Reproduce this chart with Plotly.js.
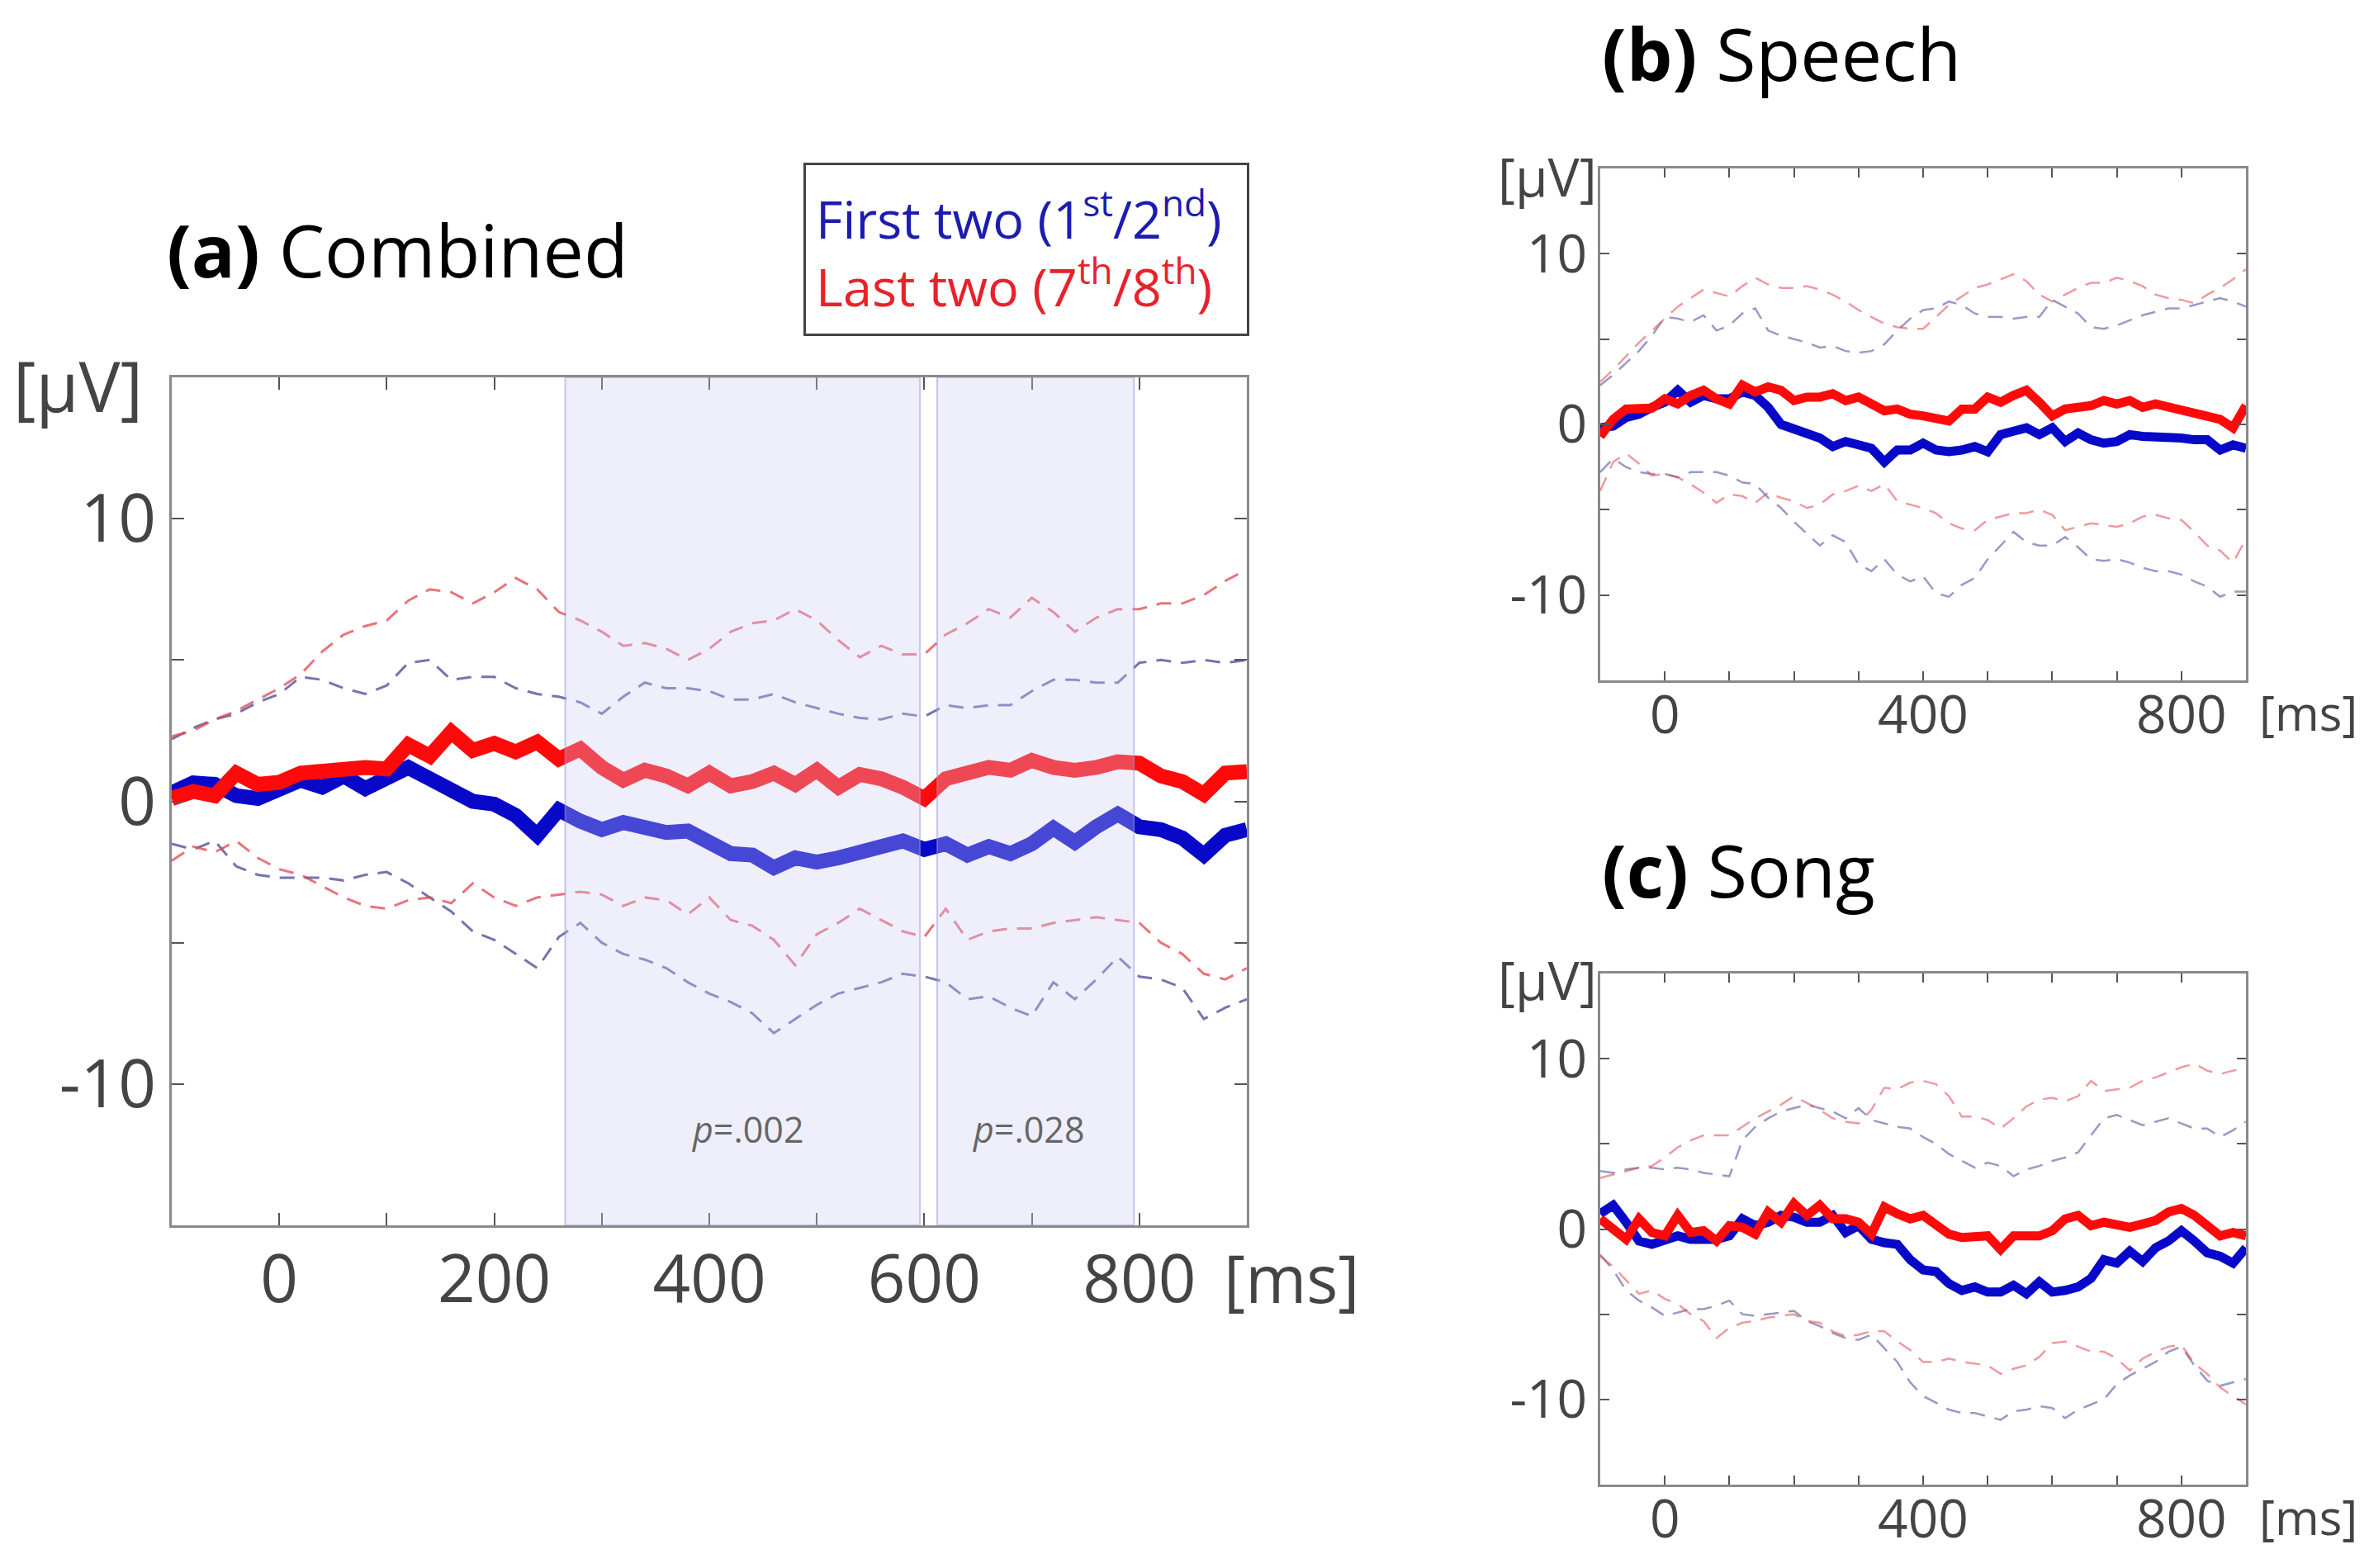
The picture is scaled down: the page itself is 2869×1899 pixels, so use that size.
<!DOCTYPE html>
<html>
<head>
<meta charset="utf-8">
<script src="https://cdn.plot.ly/plotly-3.0.1.min.js"></script>
<style>
  html, body { margin: 0; padding: 0; background: #fff; }
  #plot { width: 2869px; height: 1899px; }
</style>
</head>
<body>
<div id="plot"></div>
<script>
// time axis (ms), shared by all three panels
var timeMs = [-100, -80, -60, -40, -20, 0, 20, 40, 60, 80, 100, 120, 140, 160, 180,
  200, 220, 240, 260, 280, 300, 320, 340, 360, 380, 400, 420, 440, 460, 480,
  500, 520, 540, 560, 580, 600, 620, 640, 660, 680, 700, 720, 740, 760, 780,
  800, 820, 840, 860, 880, 900];

// (a) Combined
var combinedFirst = [0.3, 0.65, 0.6, 0.2, 0.1, 0.45, 0.75, 0.5, 0.9, 0.45, 0.8, 1.2, 0.8, 0.35, 0.0,
  -0.1, -0.5, -1.2, -0.3, -0.7, -1.0, -0.75, -0.9, -1.1, -1.05, -1.5, -1.85, -1.9, -2.35, -2.0,
  -2.15, -2.0, -1.8, -1.65, -1.4, -1.7, -1.5, -1.9, -1.6, -1.85, -1.5, -0.95, -1.45, -0.9, -0.45,
  -0.9, -1.0, -1.3, -1.9, -1.2, -1.0];
var combinedLast = [0.1, 0.35, 0.2, 1.0, 0.6, 0.67, 1.0, 1.1, 1.1, 1.2, 1.15, 2.0, 1.6, 2.45, 1.8,
  2.05, 1.75, 2.1, 1.5, 1.85, 1.2, 0.75, 1.1, 0.9, 0.55, 1.0, 0.55, 0.7, 1.0, 0.6,
  1.1, 0.5, 0.95, 0.8, 0.5, 0.1, 0.8, 1.0, 1.2, 1.1, 1.45, 1.2, 1.1, 1.2, 1.4,
  1.35, 0.9, 0.7, 0.25, 1.0, 1.05];
var combinedFirstUp = [2.2, 2.6, 2.9, 3.1, 3.5, 3.8, 4.4, 4.3, 4.0, 3.8, 4.1, 4.9, 5.0, 4.3, 4.4,
  4.4, 4.0, 3.8, 3.7, 3.5, 3.1, 3.7, 4.2, 4.0, 4.0, 3.9, 3.6, 3.6, 3.8, 3.5,
  3.3, 3.1, 2.95, 2.9, 3.1, 3.0, 3.4, 3.3, 3.4, 3.4, 3.9, 4.3, 4.3, 4.2, 4.2,
  4.9, 5.0, 4.9, 5.0, 4.9, 5.0];
var combinedFirstLo = [-1.5, -1.7, -1.4, -2.3, -2.6, -2.7, -2.7, -2.7, -2.8, -2.6, -2.5, -2.9, -3.4, -3.9, -4.6,
  -4.9, -5.4, -5.9, -4.8, -4.3, -5.0, -5.4, -5.6, -5.9, -6.4, -6.8, -7.1, -7.5, -8.2, -7.7,
  -7.2, -6.8, -6.6, -6.4, -6.1, -6.2, -6.4, -7.0, -6.9, -7.3, -7.6, -6.4, -7.0, -6.3, -5.5,
  -6.2, -6.3, -6.6, -7.7, -7.3, -7.0];
var combinedLastUp = [2.3, 2.5, 2.9, 3.2, 3.6, 4.0, 4.5, 5.3, 5.9, 6.2, 6.4, 7.1, 7.5, 7.4, 7.0,
  7.4, 7.9, 7.5, 6.7, 6.4, 6.0, 5.5, 5.6, 5.4, 5.0, 5.4, 6.0, 6.3, 6.4, 6.8,
  6.4, 5.7, 5.1, 5.5, 5.2, 5.2, 5.9, 6.3, 6.8, 6.5, 7.2, 6.7, 6.0, 6.5, 6.8,
  6.8, 7.0, 7.0, 7.3, 7.8, 8.2];
var combinedLastLo = [-2.1, -1.6, -1.8, -1.4, -2.0, -2.4, -2.6, -3.0, -3.4, -3.7, -3.8, -3.5, -3.4, -3.6, -2.9,
  -3.4, -3.7, -3.4, -3.3, -3.2, -3.3, -3.7, -3.4, -3.5, -4.0, -3.4, -4.2, -4.4, -4.9, -5.8,
  -4.7, -4.3, -3.8, -4.2, -4.6, -4.8, -3.8, -4.9, -4.6, -4.5, -4.5, -4.3, -4.2, -4.1, -4.2,
  -4.3, -5.0, -5.4, -6.1, -6.3, -5.9];

// (b) Speech
var speechFirst = [-0.2, -0.1, 0.4, 0.6, 1.0, 1.3, 2.0, 1.3, 1.7, 1.5, 1.5, 1.9, 1.7, 1.0, 0.0,
  -0.3, -0.5, -0.8, -1.3, -1.0, -1.2, -1.4, -2.2, -1.5, -1.5, -1.1, -1.5, -1.6, -1.5, -1.3,
  -1.6, -0.6, -0.4, -0.2, -0.6, -0.2, -1.0, -0.5, -0.9, -1.1, -1.0, -0.6, -0.7, -0.7, -0.8,
  -0.8, -0.9, -0.9, -1.5, -1.2, -1.4];
var speechLast = [-0.7, 0.3, 0.9, 0.9, 0.95, 1.5, 1.2, 1.7, 2.0, 1.5, 1.2, 2.3, 1.9, 2.2, 2.0,
  1.4, 1.6, 1.6, 1.8, 1.4, 1.6, 1.2, 0.8, 0.9, 0.6, 0.5, 0.3, 0.2, 0.9, 0.9,
  1.6, 1.3, 1.7, 2.0, 1.3, 0.5, 0.9, 1.0, 1.1, 1.4, 1.2, 1.4, 1.0, 1.2, 1.0,
  0.9, 0.6, 0.5, 0.3, -0.2, 1.1];
var speechFirstUp = [2.3, 2.9, 3.6, 4.3, 5.2, 6.3, 6.2, 6.0, 6.4, 5.5, 5.8, 6.5, 6.8, 5.5, 5.2,
  5.0, 4.8, 4.5, 4.6, 4.3, 4.2, 4.3, 4.7, 5.5, 6.2, 6.7, 6.8, 7.2, 7.0, 6.5,
  6.3, 6.3, 6.2, 6.3, 6.3, 7.3, 6.9, 6.5, 5.7, 5.6, 5.8, 6.1, 6.4, 6.6, 6.8,
  6.8, 7.0, 7.2, 7.4, 7.2, 6.9];
var speechFirstLo = [-2.8, -2.0, -2.5, -2.8, -2.9, -2.9, -3.1, -2.8, -2.8, -2.8, -3.0, -3.4, -3.5, -4.3, -4.9,
  -5.7, -6.4, -7.1, -6.5, -6.9, -8.2, -8.6, -7.9, -8.8, -9.2, -8.9, -9.9, -10.1, -9.4, -9.0,
  -7.9, -7.1, -6.3, -6.9, -7.1, -7.1, -6.6, -7.2, -7.9, -8.0, -7.9, -8.1, -8.4, -8.6, -8.6,
  -8.8, -9.2, -9.5, -10.1, -9.8, -9.8];
var speechLastUp = [2.5, 3.2, 4.0, 4.8, 5.5, 6.2, 6.9, 7.4, 7.9, 7.7, 7.5, 8.1, 8.6, 8.2, 8.0,
  8.0, 8.1, 7.9, 7.6, 7.2, 6.7, 6.3, 5.9, 5.7, 5.6, 5.6, 6.3, 7.0, 7.5, 8.0,
  8.2, 8.5, 8.8, 8.4, 7.6, 7.2, 7.6, 8.0, 8.3, 8.3, 8.6, 8.4, 8.1, 7.6, 7.4,
  7.3, 7.1, 7.6, 8.0, 8.5, 9.1];
var speechLastLo = [-3.9, -2.2, -1.7, -2.3, -3.0, -2.9, -3.1, -3.5, -4.0, -4.6, -4.1, -4.2, -4.6, -4.0, -4.3,
  -4.5, -4.9, -4.7, -4.1, -3.9, -3.6, -3.9, -3.5, -4.5, -4.7, -4.9, -5.2, -5.8, -6.1, -6.2,
  -5.6, -5.4, -5.2, -5.2, -5.0, -5.3, -6.2, -6.0, -5.8, -5.9, -6.0, -5.8, -5.4, -5.3, -5.5,
  -5.6, -6.3, -7.1, -7.4, -8.1, -6.7];

// (c) Song
var songFirst = [0.9, 1.4, 0.4, -0.7, -0.9, -0.6, -0.4, -0.6, -0.6, -0.6, -0.4, 0.6, 0.2, 0.4, 0.8,
  0.7, 0.4, 0.4, 0.8, -0.2, 0.2, -0.6, -0.8, -0.9, -1.8, -2.4, -2.5, -3.2, -3.6, -3.4,
  -3.7, -3.7, -3.3, -3.8, -3.1, -3.7, -3.6, -3.4, -2.9, -1.8, -2.0, -1.3, -1.9, -1.1, -0.7,
  -0.1, -0.7, -1.4, -1.6, -2.0, -1.1];
var songLast = [0.6, 0.0, -0.6, 0.6, -0.2, -0.4, 0.8, -0.2, -0.1, -0.7, 0.2, 0.1, -0.3, 1.0, 0.4,
  1.5, 0.8, 1.4, 0.6, 0.6, 0.4, -0.3, 1.3, 0.9, 0.6, 0.8, 0.2, -0.3, -0.5, -0.4,
  -0.4, -1.2, -0.4, -0.4, -0.4, -0.1, 0.6, 0.8, 0.2, 0.4, 0.2, 0.1, 0.3, 0.5, 1.0,
  1.2, 0.8, 0.2, -0.4, -0.2, -0.4];
var songFirstUp = [3.4, 3.3, 3.5, 3.6, 3.6, 3.5, 3.6, 3.5, 3.3, 3.2, 3.1, 5.2, 6.0, 6.5, 6.9,
  7.1, 7.3, 7.1, 6.9, 6.5, 7.1, 6.4, 6.2, 6.0, 5.9, 5.4, 5.0, 4.4, 4.0, 3.6,
  3.9, 3.7, 3.1, 3.5, 3.7, 4.0, 4.2, 4.5, 5.5, 6.5, 6.7, 6.4, 6.1, 6.3, 6.5,
  6.2, 5.9, 5.9, 5.4, 5.8, 6.3];
var songFirstLo = [-1.5, -2.4, -3.6, -4.2, -4.6, -5.1, -4.9, -4.7, -4.7, -4.5, -4.2, -5.0, -5.1, -5.0, -4.9,
  -4.8, -5.4, -5.7, -6.1, -6.4, -6.5, -6.2, -7.0, -7.8, -9.0, -9.8, -10.2, -10.6, -10.8, -10.8,
  -11.0, -11.2, -10.7, -10.6, -10.4, -10.5, -11.1, -10.6, -10.3, -10.0, -9.1, -8.6, -8.2, -7.8, -7.2,
  -6.9, -8.0, -8.9, -9.2, -9.0, -8.8];
var songLastUp = [3.0, 3.2, 3.4, 3.6, 3.7, 4.2, 4.8, 5.2, 5.5, 5.5, 5.5, 6.0, 6.5, 6.9, 7.3,
  7.8, 7.4, 7.0, 6.5, 6.3, 6.2, 7.0, 8.3, 8.2, 8.6, 8.7, 8.5, 7.8, 6.6, 6.6,
  6.4, 5.9, 6.5, 7.2, 7.6, 7.7, 7.5, 7.8, 8.7, 8.1, 8.2, 8.3, 8.7, 8.9, 9.2,
  9.5, 9.7, 9.3, 9.1, 9.3, 9.4];
var songLastLo = [-1.6, -2.2, -3.0, -3.8, -3.6, -4.1, -4.4, -5.0, -5.4, -6.4, -5.8, -5.5, -5.4, -5.2, -5.1,
  -5.0, -5.4, -5.5, -6.0, -6.3, -6.2, -6.0, -6.0, -6.6, -7.1, -7.8, -7.8, -7.6, -7.8, -7.9,
  -8.0, -8.5, -8.2, -8.0, -7.5, -6.7, -6.6, -6.9, -7.2, -7.2, -7.6, -8.3, -7.6, -7.2, -6.9,
  -6.8, -7.9, -8.5, -9.3, -9.8, -10.3];

// significant windows in (a), ms
var sigStart = [266, 612];
var sigEnd = [596, 795];
var sigLabel = ['<i>p</i>=.002', '<i>p</i>=.028'];
var sigLabelX = [436, 697];

// tick labels
var xTickVals = [-100, 0, 100, 200, 300, 400, 500, 600, 700, 800, 900];
var xTickTextA = ['', '0', '', '200', '', '400', '', '600', '', '800', ''];
var xTickTextBC = ['', '0', '', '', '', '400', '', '', '', '800', ''];
var yTickVals = [-15, -10, -5, 0, 5, 10, 15];
var yTickText = ['', '-10', '', '0', '', '10', ''];

var W = 2869, H = 1899;
var FONT = 'Open Sans, Noto Sans, sans-serif';
var BLUE = '#0808c8', RED = '#ff0a0a';

function px(x) { return x / W; }
function py(y) { return 1 - y / H; }

function dashed(y, color, ax, w) {
  return {
    x: timeMs, y: y, xaxis: ax[0], yaxis: ax[1], type: 'scatter', mode: 'lines',
    line: {color: color, width: w, dash: '18px,12px'}, hoverinfo: 'skip', showlegend: false
  };
}
function thick(y, color, ax, w) {
  return {
    x: timeMs, y: y, xaxis: ax[0], yaxis: ax[1], type: 'scatter', mode: 'lines',
    line: {color: color, width: w}, hoverinfo: 'skip', showlegend: false
  };
}

function panel(first, last, fUp, fLo, lUp, lLo, ax, wThick, wDash, alpha) {
  var bd = 'rgba(70,70,150,' + alpha + ')';
  var rd = 'rgba(225,70,80,' + alpha + ')';
  return [
    dashed(fUp, bd, ax, wDash), dashed(fLo, bd, ax, wDash),
    dashed(lUp, rd, ax, wDash), dashed(lLo, rd, ax, wDash),
    thick(first, BLUE, ax, wThick), thick(last, RED, ax, wThick)
  ];
}

var data = [].concat(
  panel(combinedFirst, combinedLast, combinedFirstUp, combinedFirstLo, combinedLastUp, combinedLastLo, ['x', 'y'], 18, 3, 0.75),
  panel(speechFirst, speechLast, speechFirstUp, speechFirstLo, speechLastUp, speechLastLo, ['x2', 'y2'], 11, 2.5, 0.55),
  panel(songFirst, songLast, songFirstUp, songFirstLo, songLastUp, songLastLo, ['x3', 'y3'], 11, 2.5, 0.55)
);

function xAxis(domain, anchor, ticktext, size, ticklen, standoff) {
  return {
    domain: domain, anchor: anchor, range: [-100, 900], fixedrange: true,
    tickvals: xTickVals, ticktext: ticktext, ticks: 'inside', ticklen: ticklen, tickwidth: 2,
    tickcolor: '#555', showline: true, linecolor: '#8a8a8a', linewidth: 3, mirror: 'ticks',
    ticklabelstandoff: standoff,
    showgrid: false, zeroline: false, tickfont: {family: FONT, size: size, color: '#444'}
  };
}
function yAxis(domain, anchor, size, ticklen) {
  return {
    domain: domain, anchor: anchor, range: [-15, 15], fixedrange: true,
    tickvals: yTickVals, ticktext: yTickText, ticks: 'inside', ticklen: ticklen, tickwidth: 2,
    tickcolor: '#555', showline: true, linecolor: '#8a8a8a', linewidth: 3, mirror: 'ticks',
    showgrid: false, zeroline: false, tickfont: {family: FONT, size: size, color: '#444'}
  };
}

var shapes = [];
var annotations = [];
for (var i = 0; i < sigStart.length; i++) {
  shapes.push({
    type: 'rect', xref: 'x', yref: 'y', x0: sigStart[i], x1: sigEnd[i], y0: -15, y1: 15,
    fillcolor: 'rgba(205,205,245,0.32)', line: {color: 'rgba(150,150,210,0.5)', width: 2}, layer: 'above'
  });
  annotations.push({
    xref: 'x', yref: 'y', x: sigLabelX[i], y: -11.6, text: sigLabel[i], showarrow: false,
    font: {family: FONT, size: 43, color: '#666'}
  });
}

function txt(x, y, text, size, color, xanchor) {
  return {
    xref: 'paper', yref: 'paper', x: px(x), y: py(y), text: text, showarrow: false,
    xanchor: xanchor || 'left', yanchor: 'middle', font: {family: FONT, size: size, color: color || '#000'}
  };
}

annotations.push(txt(200, 302, '<b>(a)</b> Combined', 88));
annotations.push(txt(1938, 64, '<b>(b)</b> Speech', 88));
annotations.push(txt(1938, 1053, '<b>(c)</b> Song', 88));
annotations.push(txt(14, 466, '[μV]', 84, '#444'));
annotations.push(txt(1812, 214, '[μV]', 64, '#444'));
annotations.push(txt(1812, 1186, '[μV]', 64, '#444'));
annotations.push(txt(1480, 1546, '[ms]', 80, '#444'));
annotations.push(txt(2734, 862, '[ms]', 58, '#444'));
annotations.push(txt(2734, 1836, '[ms]', 58, '#444'));

annotations.push({
  xref: 'paper', yref: 'paper', x: px(973), y: py(197), xanchor: 'left', yanchor: 'top',
  showarrow: false, align: 'left', bgcolor: '#fff', bordercolor: '#444', borderwidth: 3, borderpad: 12,
  width: 510, height: 180, valign: 'middle',
  text: '<span style="color:#1c1cb0">First two (1<sup>st</sup>/2<sup>nd</sup>)</span><br>' +
        '<span style="color:#e8222a">Last two (7<sup>th</sup>/8<sup>th</sup>)</span>',
  font: {family: FONT, size: 63}
});

var layout = {
  width: W, height: H, autosize: false,
  margin: {l: 0, r: 0, t: 0, b: 0},
  paper_bgcolor: '#fff', plot_bgcolor: '#fff', showlegend: false,
  xaxis: xAxis([px(208), px(1510)], 'y', xTickTextA, 80, 15, -6),
  yaxis: yAxis([py(1484), py(457)], 'x', 80, 15),
  xaxis2: xAxis([px(1938), px(2720)], 'y2', xTickTextBC, 64, 11, -16),
  yaxis2: yAxis([py(824), py(204)], 'x2', 64, 11),
  xaxis3: xAxis([px(1938), px(2720)], 'y3', xTickTextBC, 64, 11, -16),
  yaxis3: yAxis([py(1798), py(1179)], 'x3', 64, 11),
  shapes: shapes,
  annotations: annotations
};

Plotly.newPlot('plot', data, layout, {staticPlot: true});
</script>
</body>
</html>
